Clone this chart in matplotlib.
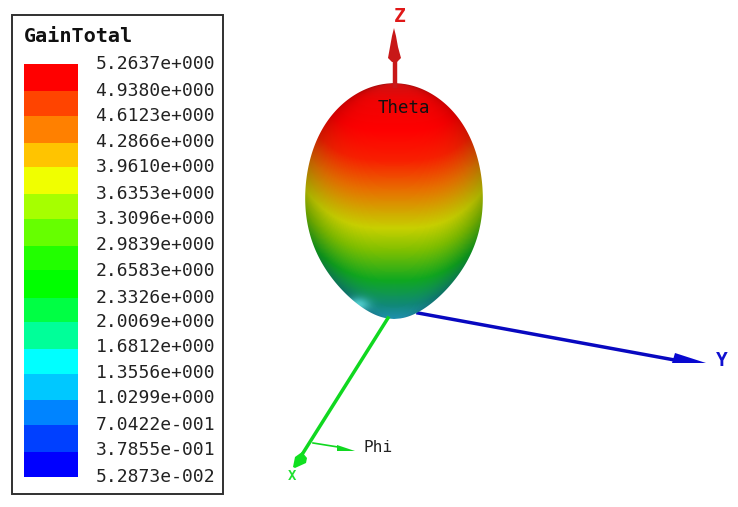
import numpy as np
import matplotlib
matplotlib.use("Agg")
import matplotlib.pyplot as plt
from matplotlib.colors import LinearSegmentedColormap
from matplotlib.patches import Polygon, Rectangle

# legend values ---------------------------------------------------------------
gain_labels = ["5.2637e+000", "4.9380e+000", "4.6123e+000", "4.2866e+000", "3.9610e+000",
               "3.6353e+000", "3.3096e+000", "2.9839e+000", "2.6583e+000", "2.3326e+000",
               "2.0069e+000", "1.6812e+000", "1.3556e+000", "1.0299e+000", "7.0422e-001",
               "3.7855e-001", "5.2873e-002"]
band_colors = ["#ff0000", "#ff4400", "#ff8000", "#ffc400", "#f0ff00", "#a6ff00", "#66ff00", "#22ff00",
               "#00ff00", "#00ff44", "#00ff99", "#00ffff", "#00c8ff", "#0084ff", "#0040ff", "#0000ff"]
band_edges = [64, 91, 116, 143, 167, 194, 219, 246, 270, 298, 322, 349, 374, 400, 425, 452, 477]
label_y = [64, 91, 116, 142, 167, 194, 219, 245, 271, 298, 322, 347, 373, 398, 425, 450, 477]

# lobe outline
lobe_y = [83, 90, 100, 108, 125, 142, 160, 175, 190, 210, 230, 250, 265, 280, 300, 313, 319]
lobe_halfwidth = [0, 29, 47, 56, 69, 78, 84, 87, 89, 88, 85, 79, 71, 60, 42, 22, 0]
# colours down the middle of the lobe
lobe_color_y = [83, 100, 130, 160, 190, 215, 228, 250, 280, 305, 319]
lobe_colors = ["#d01010", "#f00404", "#ff0000", "#f82000", "#e87000", "#d0b000", "#c8d000", "#80c000", "#10a820", "#108878", "#2090b0"]

plt.rcParams["font.family"] = ["DejaVu Sans Mono", "Liberation Mono"]
fig = plt.figure(figsize=(7.38, 5.07), dpi=100)
ax = fig.add_axes([0, 0, 1, 1])
ax.set_xlim(0, 738)
ax.set_ylim(507, 0)
ax.axis("off")

# legend ----------------------------------------------------------------------
ax.add_patch(Rectangle((12, 15), 211, 479, fc="white", ec="#303030", lw=1.4))
ax.text(24, 37, "GainTotal", fontsize=14.5, fontweight="bold", va="center", color="#111111")
for i in range(len(band_colors)):
    ax.add_patch(Rectangle((24, band_edges[i]), 54, band_edges[i+1]-band_edges[i], fc=band_colors[i], lw=0))
for y, lab in zip(label_y, gain_labels):
    ax.text(215, y, lab, fontsize=13, ha="right", va="center", color="#222222")

# lobe ------------------------------------------------------------------------
cx = 394
# polynomial through width^2 gives a smooth egg outline
y_norm = (np.array(lobe_y)-201.0)/118.0
coef = np.polyfit(y_norm, np.array(lobe_halfwidth, dtype=float)**2, 8)
dense_y = np.linspace(83, 319, 400)
smooth_w = np.sqrt(np.maximum(np.polyval(coef, (dense_y-201.0)/118.0), 0))
smooth_w[0] = 0
smooth_w[-1] = 0

ys = np.arange(80, 322)
xs = np.arange(300, 490)
X, Y = np.meshgrid(xs, ys)
hw = np.interp(Y, dense_y, smooth_w)
r = np.clip(np.abs(X-cx)/np.maximum(hw, 1), 0, 1)
cmap = LinearSegmentedColormap.from_list("lobe", [((y-83)/(319-83), c) for y, c in zip(lobe_color_y, lobe_colors)])
# colour bands bend upward at the rim
bend = 38*np.sin(np.pi*np.clip((Y-83)/(319-83), 0, 1))
rgb = cmap(np.clip((Y+bend*r**3-83)/(319-83), 0, 1))[..., :3]
shade = 1-0.18*r**4
rgb = rgb*shade[..., None]
# light patch low on the left
spot = np.exp(-(((X-358)/11.0)**2+((Y-304)/7.0)**2))[..., None]
spot_rgb = np.array([0.35, 0.85, 0.85])
rgb = rgb*(1-0.85*spot)+spot_rgb*0.85*spot
im = ax.imshow(rgb, extent=(300, 490, 322, 80), zorder=2, interpolation="bilinear")
outline = [(cx-w, y) for y, w in zip(dense_y, smooth_w)] + [(cx+w, y) for y, w in zip(dense_y[::-1], smooth_w[::-1])]
clip = Polygon(outline, closed=True, transform=ax.transData, fc="none", ec="none")
ax.add_patch(clip)
im.set_clip_path(clip)
ax.set_xlim(0, 738)
ax.set_ylim(507, 0)

# axes arrows -----------------------------------------------------------------
ax.plot([394.5, 394.5], [86, 60], color="#c81818", lw=3.2, zorder=3)
ax.add_patch(Polygon([(394, 28), (396, 36), (398, 47), (401, 58), (397, 62), (392, 62), (388, 58), (390, 47), (392, 36)],
                     fc="#c81818", ec="none", zorder=3))
ax.text(400, 17, "Z", color="#e01818", fontsize=14, ha="center", va="center", fontweight="bold")
ax.text(404, 108, "Theta", color="#111111", fontsize=12.5, ha="center", va="center", zorder=4)

ax.plot([418, 680], [313, 361], color="#0808c0", lw=2.5, zorder=1)
ax.add_patch(Polygon([(706, 363), (675, 353), (672, 363)], fc="#0808d0", ec="none", zorder=3))
ax.text(722, 360, "Y", color="#1010d0", fontsize=14, ha="center", va="center", fontweight="bold")

ax.plot([388, 303], [318, 453], color="#10d820", lw=2.5, zorder=3)
ax.add_patch(Polygon([(293, 467), (295, 457), (302, 452), (307, 458), (306, 463), (295, 468)], fc="#10e020", ec="none", zorder=3))
ax.text(292, 476, "X", color="#20e030", fontsize=10, ha="center", va="center", fontweight="bold")
ax.plot([313, 338], [443, 447], color="#10d820", lw=1.2, zorder=3)
ax.add_patch(Polygon([(355, 451), (337, 445), (337, 451)], fc="#10d820", ec="none", zorder=3))
ax.text(378, 448, "Phi", color="#222222", fontsize=11.6, ha="center", va="center")

fig.savefig("out.png", dpi=100)
